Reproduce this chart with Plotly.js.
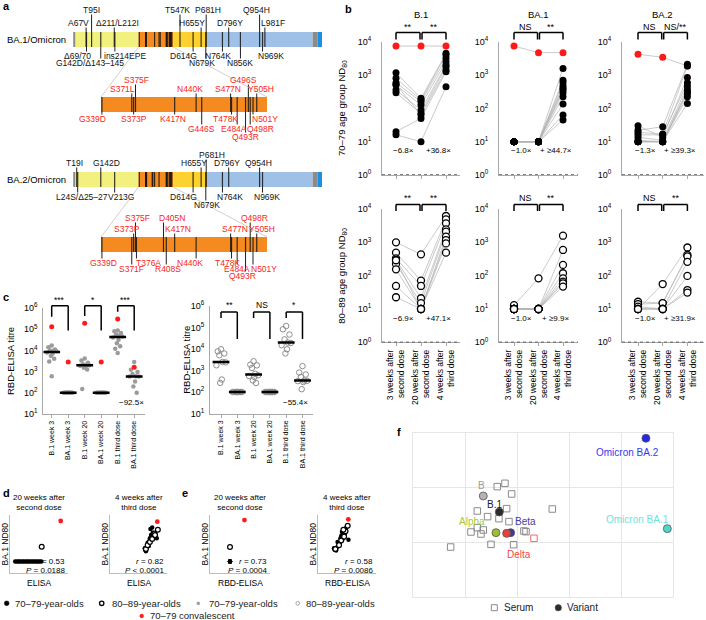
<!DOCTYPE html>
<html><head><meta charset="utf-8">
<script src="https://cdn.plot.ly/plotly-3.0.1.min.js"></script>
<style>html,body{margin:0;padding:0;background:#fff}#chart{width:706px;height:620px}</style>
</head><body><div id="chart"></div>
<script>
// ======================= DATA =======================
// ---- panel a: spike protein (residue numbers) ----
const DOMAIN_START = [1, 13, 335, 512, 685, 1225, 1250];
const DOMAIN_END   = [13, 335, 512, 685, 1225, 1250, 1273];
const BA1_MUT_POS = [67, 69, 95, 142, 211, 214, 339, 371, 373, 375, 417, 440, 446, 477, 478, 484, 493, 496, 498, 501, 505, 547, 614, 655, 679, 681, 764, 796, 856, 954, 969, 981];
const BA2_MUT_POS = [19, 24, 142, 213, 339, 371, 373, 375, 376, 405, 408, 417, 440, 477, 478, 484, 493, 498, 501, 505, 614, 655, 679, 681, 764, 796, 954, 969];
const BA1_LABELS = ['A67V','T95I','Δ211/L212I','T547K','H655Y','P681H','D796Y','Q954H','L981F','Δ69/70','G142D/Δ143–145','ins214EPE','D614G','N679K','N764K','N856K','N969K'];
const BA1_LABEL_POS = [67,95,211,547,655,681,796,954,981,69,142,214,614,679,764,856,969];
const BA1_RBD_LABELS = ['S375F','S371L','N440K','S477N','G496S','Y505H','G339D','S373P','K417N','G446S','T478K','E484A','Q493R','Q498R','N501Y'];
const BA1_RBD_POS = [375,371,440,477,496,505,339,373,417,446,478,484,493,498,501];
const BA2_LABELS = ['T19I','G142D','H655Y','P681H','D796Y','Q954H','L24S/Δ25–27','V213G','D614G','N679K','N764K','N969K'];
const BA2_LABEL_POS = [19,142,655,681,796,954,24,213,614,679,764,969];
const BA2_RBD_LABELS = ['S375F','S373P','D405N','K417N','S477N','Q498R','Y505H','G339D','S371F','T376A','R408S','N440K','T478K','E484A','Q493R','N501Y'];
const BA2_RBD_POS = [375,373,405,417,477,498,505,339,371,376,408,440,478,484,493,501];
const RBD_VIEW = [338, 516];

// ---- panel b: ND80 per individual (3 wk after 2nd, 20 wk after 2nd, 4 wk after 3rd) ----
const B1_70_W3   = [1170, 800, 590, 500, 355, 295, 520, 20, 16];
const B1_70_W20  = [200, 178, 158, 126, 89, 71, 63, 50, 10];
const B1_70_D3   = [4470, 4000, 3160, 2500, 2000, 1780, 1410, 1260, 447];
const B1_70_CONV = [7400, 7400, 7400];
const BA1_70_W3  = [10,10,10,10,10,10,10,10,10,10,10];
const BA1_70_W20 = [10,10,10,10,10,10,10,10,10,10,10];
const BA1_70_D3  = [1580, 700, 590, 470, 400, 355, 295, 222, 135, 63, 45];
const BA1_70_CONV = [7400, 4700, 4700];
const BA2_70_W3  = [30, 22, 19, 16, 13.5, 11, 10, 10, 10, 10];
const BA2_70_W20 = [13.5, 28, 17, 16, 11, 10, 10, 10, 10, 10];
const BA2_70_D3  = [850, 2090, 1870, 590, 470, 370, 316, 280, 222, 140];
const BA2_70_CONV = [4200, 3400, 1870];
const B1_80_W3   = [1000, 490, 330, 295, 222, 155, 49, 22.5, 290];
const B1_80_W20  = [435, 71, 49, 21, 15, 10, 10, 10, 10];
const B1_80_D3   = [6170, 4900, 3720, 2450, 2090, 1480, 1170, 930, 490];
const BA1_80_W3  = [13, 10, 10, 10, 10, 10, 10, 10];
const BA1_80_W20 = [83, 10, 10, 10, 10, 10, 10, 10];
const BA1_80_D3  = [1580, 590, 210, 118, 83, 66, 59, 47];
const BA2_80_W3  = [10, 16.5, 14, 11.7, 10, 10, 10];
const BA2_80_W20 = [56, 15, 15, 10, 10, 10, 10];
const BA2_80_D3  = [700, 420, 380, 260, 98, 37, 31];
const B_TITLES = ['B.1', 'BA.1', 'BA.2'];
const B_XTICKS = ['3 weeks after<br>second dose', '20 weeks after<br>second dose', '4 weeks after<br>third dose'];
const B_SIG_70 = [['**','**'], ['NS','**'], ['NS','NS/**']];
const B_SIG_80 = [['**','**'], ['NS','**'], ['NS','**']];
const B_FOLD_70 = [['−6.8×','+36.8×'], ['−1.0×','+ ≥44.7×'], ['−1.3×','+ ≥39.3×']];
const B_FOLD_80 = [['−6.9×','+47.1×'], ['−1.0×','+ ≥9.9×'], ['−1.0×','+ ≥31.9×']];

// ---- panel c: RBD-ELISA titres ----
const C_CATS = ['B.1 week 3','BA.1 week 3','B.1 week 20','BA.1 week 20','B.1 third dose','BA.1 third dose'];
const C70_B1_W3   = [17000, 14000, 11000, 10000, 9500, 9000, 8000, 7000, 5500, 4000, 3000, 600];
const C70_BA1_W3  = [100,100,100,100,100,100,100,100,100,100,100,100];
const C70_B1_W20  = [4100, 3300, 2600, 2200, 2100, 2000, 1900, 1800, 1500, 1250, 150];
const C70_BA1_W20 = [100,100,100,100,100,100,100,100,100,100,100];
const C70_B1_D3   = [87000, 79000, 67000, 55000, 50000, 45000, 41000, 31600, 22000, 15500, 12000, 7600];
const C70_BA1_D3  = [2800, 1230, 960, 775, 600, 590, 580, 345, 200, 100];
const C70_CONV    = [130000, 2800, 190000, 2800, 300000, 1600];
const C80_B1_W3   = [9700, 7800, 6200, 5100, 2500, 2400, 1750, 380, 265];
const C80_BA1_W3  = [100,100,100,100,100,100,100,100,100];
const C80_B1_W20  = [2700, 1870, 1740, 1310, 700, 600, 555, 500, 345, 262];
const C80_BA1_W20 = [100,100,100,100,100,100,100,100,100,100];
const C80_B1_D3   = [117000, 83000, 47000, 28000, 20000, 19000, 15000, 9700, 6200];
const C80_BA1_D3  = [1600, 800, 650, 500, 340, 330, 320, 290, 135];
const C70_SIG = ['***', '*', '***'];
const C80_SIG = ['**', 'NS', '*'];
const C70_FOLD = '−92.5×';
const C80_FOLD = '−55.4×';

// ---- panels d, e: BA.1 ND80 vs ELISA ----
const D1_B70_X = [28, 40, 55, 75, 110, 150, 220, 300, 420, 600, 850, 1200, 1700, 2400, 3500, 5000];
const D1_B70_Y = [10, 10, 10, 10, 10, 10, 10, 10, 10, 10, 10, 10, 10, 10, 10, 10];
const D1_O80_X = [5400];
const D1_O80_Y = [89];
const D1_CONV_X = [235000];
const D1_CONV_Y = [4100];
const D2_B70_X = [12600, 14100, 11200, 17800, 22400, 28200, 31600, 39800, 56200, 70800, 100000, 126000, 35500, 25100, 20000, 50100];
const D2_B70_Y = [56, 45, 71, 79, 126, 200, 316, 500, 708, 562, 447, 316, 1260, 100, 158, 1580];
const D2_O80_X = [14100, 20000, 31600, 50100, 79400, 158000, 89100];
const D2_O80_Y = [63, 112, 178, 282, 631, 1120, 501];
const D2_CONV_X = [141000];
const D2_CONV_Y = [3720];
const E1_B70_X = [100, 100, 100, 100, 100];
const E1_B70_Y = [10, 10, 10, 10, 10];
const E1_O80_X = [100];
const E1_O80_Y = [85];
const E1_CONV_X = [2800];
const E1_CONV_Y = [4700];
const E2_B70_X = [141, 126, 178, 200, 251, 224, 316, 355, 398, 562, 708, 447, 891, 1260, 501];
const E2_B70_Y = [56, 71, 50, 79, 100, 178, 141, 316, 447, 631, 501, 794, 1580, 251, 282];
const E2_O80_X = [158, 282, 398, 631, 794, 1120, 562];
const E2_O80_Y = [63, 112, 224, 398, 891, 2000, 1120];
const E2_CONV_X = [1230];
const E2_CONV_Y = [5250];
const DE_TITLES = ['20 weeks after<br>second dose', '4 weeks after<br>third dose', '20 weeks after<br>second dose', '4 weeks after<br>third dose'];
const DE_XLABELS = ['ELISA', 'ELISA', 'RBD-ELISA', 'RBD-ELISA'];
const DE_R = ['0.53', '0.82', '0.73', '0.58'];
const DE_P = ['= 0.0188', '< 0.0001', '= 0.0004', '= 0.0086'];

// ---- panel f: antigenic map ----
const SERUM_X = [1.763, 1.615, 1.891, 1.231, 1.795, 1.429, 1.647, 1.840, 2.673, 1.231, 1.346, 1.109, 1.301, 2.128, 2.167, 1.494, 1.929, 0.718];
const SERUM_Y = [2.082, 2.021, 1.886, 1.574, 1.617, 1.470, 1.433, 1.378, 1.610, 1.268, 1.225, 1.188, 1.151, 1.206, 1.194, 0.961, 0.955, 0.912];
const SERUM_DELTA_X = [2.321];
const SERUM_DELTA_Y = [1.072];
const VARIANT_NAMES = ['B', 'B.1', 'Alpha', 'Beta', 'Delta', 'Omicron BA.1', 'Omicron BA.2'];
const VARIANT_X = [1.346, 1.654, 1.590, 1.872, 1.795, 4.885, 4.474];
const VARIANT_Y = [1.849, 1.555, 1.176, 1.176, 1.163, 1.249, 2.909];

// ======================= STYLE / LAYOUT =======================
const W = 706, H = 620;
const PX = v => v / W;
const PY = v => 1 - v / H;
const FONT = 'Liberation Sans, Arial, Helvetica, sans-serif';
const DOMAIN_COLORS = ['#8c8c8c', '#f2f07e', '#f58b20', '#fdd230', '#9fc1e8', '#8c8c8c', '#1b8fe0'];
const VARIANT_COLORS = ['#b4b4b4', '#2b2b2b', '#9cc032', '#3c3c98', '#e8413c', '#4fd6cc', '#2626e8'];
const VARIANT_LABEL_COLORS = ['#9a9a9a', '#222222', '#a8c83a', '#40409e', '#f04848', '#6fe2d8', '#3838f0'];
const VARIANT_LABEL_DX = [-2, -5, -24, 15, 12, -30, -18];
const VARIANT_LABEL_DY = [10, 8, 11, 11, -21, 9, -14];

const layout = {
  width: W, height: H, margin: {l: 0, r: 0, t: 0, b: 0},
  paper_bgcolor: '#ffffff', plot_bgcolor: 'rgba(0,0,0,0)', showlegend: false,
  font: {family: FONT, size: 9, color: '#000'},
  shapes: [], annotations: []
};
const traces = [];
function ann(o) { layout.annotations.push(Object.assign({showarrow: false, xref: 'paper', yref: 'paper', xanchor: 'center', yanchor: 'middle'}, o)); }
function ptext(x, y, text, size, extra) {
  ann(Object.assign({x: PX(x), y: PY(y), text: text, font: {size: size || 9, color: '#000', family: FONT}}, extra || {}));
}
function pline(x0, y0, x1, y1, color, width, dash) {
  layout.shapes.push({type: 'line', xref: 'paper', yref: 'paper', x0: PX(x0), y0: PY(y0), x1: PX(x1), y1: PY(y1),
    line: {color: color, width: width, dash: dash || 'solid'}});
}
const LOGTXT = e => '10<sup>' + e + '</sup>';

// ======================= PANEL a =======================
layout.xaxis  = {domain: [PX(73), PX(322)], range: [0, 1273], visible: false, anchor: 'y'};
layout.yaxis  = {domain: [PY(280), 1], range: [280, 0], visible: false, anchor: 'x'};
layout.xaxis2 = {domain: [PX(101), PX(267)], range: RBD_VIEW, visible: false, anchor: 'y2'};
layout.yaxis2 = {domain: [PY(280), 1], range: [280, 0], visible: false, anchor: 'x2'};
const mainPx = r => 73 + r / 1273 * 249;

const A_TRACKS = [
  {name: 'BA.1/Omicron', y0: 32, y1: 47, tiers: {u2: 10, u1: 23, d1: 56, d2: 63},
   pos: BA1_MUT_POS, labels: BA1_LABELS, lpos: BA1_LABEL_POS,
   ltier: ['u1','u2','u1','u2','u1','u2','u1','u2','u1','d1','d2','d1','d1','d2','d1','d2','d1'],
   ldx: [-8,0,3,-2,-9,2,1,-3,8,-9,-11,10,-10,-4,-4,0,8],
   rbd: {y0: 97, y1: 112, tiers: {u2: 80, u1: 89, d1: 119, d2: 129, d3: 137},
     labels: BA1_RBD_LABELS, lpos: BA1_RBD_POS,
     ltier: ['u2','u1','u1','u1','u2','u1','d1','d1','d1','d2','d1','d2','d3','d2','d1'],
     ldx: [1,-9,-6,-3,-5,4,-9,0,-2,0,-6,-3,0,10,12]}},
  {name: 'BA.2/Omicron', y0: 172, y1: 187, tiers: {u2: 155, u1: 163, d1: 197, d2: 205},
   pos: BA2_MUT_POS, labels: BA2_LABELS, lpos: BA2_LABEL_POS,
   ltier: ['u1','u1','u1','u2','u1','u1','d1','d1','d1','d2','d1','d1'],
   ldx: [-2,6,-7,6,-2,-1,4,6,-10,1,8,4],
   rbd: {y0: 237, y1: 252, tiers: {u2: 218, u1: 229, d1: 263, d2: 269, d3: 276},
     labels: BA2_RBD_LABELS, lpos: BA2_RBD_POS,
     ltier: ['u2','u1','u2','u1','u1','u2','u1','d1','d2','d1','d2','d1','d1','d2','d3','d2'],
     ldx: [2,-7,9,3,4,4,5,2,0,12,2,-6,-4,0,-3,11]}}
];

function labelSet(set, y0, y1, xa, ya, color) {
  const lx = [], ly = [];
  set.labels.forEach((t, i) => {
    const p = set.lpos[i], tier = set.ltier[i], y = set.tiers[tier];
    if (tier[0] === 'u') { lx.push(p, p, null); ly.push(y0, y + 4.5, null); }
    else { lx.push(p, p, null); ly.push(y1, y - 4.5, null); }
    layout.annotations.push({xref: xa, yref: ya, x: p, y: y, xshift: set.ldx[i], text: t, showarrow: false,
      font: {size: 8.5, color: color, family: FONT}, xanchor: 'center', yanchor: 'middle'});
  });
  traces.push({type: 'scatter', mode: 'lines', x: lx, y: ly, xaxis: xa, yaxis: ya,
    line: {color: '#1e1e1e', width: 1}, hoverinfo: 'skip'});
}

A_TRACKS.forEach(tr => {
  DOMAIN_START.forEach((s, i) => layout.shapes.push({type: 'rect', xref: 'x', yref: 'y', x0: s, x1: DOMAIN_END[i],
    y0: tr.y0, y1: tr.y1, fillcolor: DOMAIN_COLORS[i], line: {width: 0}, layer: 'below'}));
  layout.shapes.push({type: 'rect', xref: 'x2', yref: 'y2', x0: RBD_VIEW[0], x1: RBD_VIEW[1],
    y0: tr.rbd.y0, y1: tr.rbd.y1, fillcolor: DOMAIN_COLORS[2], line: {width: 0}, layer: 'below'});
  pline(mainPx(DOMAIN_START[2]), tr.y1, 101, tr.rbd.y0, '#c4c4c4', 0.8);
  pline(mainPx(DOMAIN_END[2]), tr.y1, 267, tr.rbd.y0, '#c4c4c4', 0.8);
  const mx = [], my = [];
  tr.pos.forEach(p => { mx.push(p, p, null); my.push(tr.y0, tr.y1, null); });
  traces.push({type: 'scatter', mode: 'lines', x: mx, y: my, xaxis: 'x', yaxis: 'y',
    line: {color: 'rgba(20,20,20,0.85)', width: 1.2}, hoverinfo: 'skip'});
  const rx = [], ry = [];
  tr.pos.filter(p => p >= RBD_VIEW[0] && p <= RBD_VIEW[1]).forEach(p => { rx.push(p, p, null); ry.push(tr.rbd.y0, tr.rbd.y1, null); });
  traces.push({type: 'scatter', mode: 'lines', x: rx, y: ry, xaxis: 'x2', yaxis: 'y2',
    line: {color: 'rgba(20,20,20,0.85)', width: 1.2}, hoverinfo: 'skip'});
  labelSet(tr, tr.y0, tr.y1, 'x', 'y', '#111');
  labelSet(tr.rbd, tr.rbd.y0, tr.rbd.y1, 'x2', 'y2', '#f5271c');
  ptext(68, (tr.y0 + tr.y1) / 2, tr.name, 9.5, {xanchor: 'right'});
});

// ======================= PANEL b =======================
const B_COLS = [{ax: 382, c0: 396, st: 25, r: 460}, {ax: 499, c0: 514, st: 24.5, r: 578}, {ax: 622, c0: 638, st: 24.7, r: 704}];
const B_ROWS = [{top: 41.7, bot: 175, sig: 27, brTop: 32.5, brLeg: 39.5, fold: 150, open: false, sigs: B_SIG_70, folds: B_FOLD_70},
                {top: 209, bot: 342.3, sig: 197.5, brTop: 204.5, brLeg: 211, fold: 318, open: true, sigs: B_SIG_80, folds: B_FOLD_80}];
const B_DATA = [
  [[B1_70_W3, B1_70_W20, B1_70_D3, B1_70_CONV], [BA1_70_W3, BA1_70_W20, BA1_70_D3, BA1_70_CONV], [BA2_70_W3, BA2_70_W20, BA2_70_D3, BA2_70_CONV]],
  [[B1_80_W3, B1_80_W20, B1_80_D3, null], [BA1_80_W3, BA1_80_W20, BA1_80_D3, null], [BA2_80_W3, BA2_80_W20, BA2_80_D3, null]]
];

function dataLine(xref, x0, y0, x1, y1, w) {
  layout.shapes.push({type: 'line', xref: xref, yref: 'paper', x0: x0, x1: x1, y0: PY(y0), y1: PY(y1), line: {color: '#000', width: w || 1.5}});
}

B_ROWS.forEach((row, r) => {
  B_COLS.forEach((col, c) => {
    const k = 3 + r * 3 + c, xa = 'x' + k, ya = 'y' + k;
    layout['xaxis' + k] = {domain: [PX(col.ax), PX(col.r)], range: [-(col.c0 - col.ax) / col.st, (col.r - col.c0) / col.st],
      anchor: ya, showline: true, linecolor: '#a8a8a8', linewidth: 1, zeroline: false, showgrid: false,
      tickvals: [0, 1, 2], ticktext: B_XTICKS, showticklabels: r === 1, tickangle: -90,
      ticks: 'outside', ticklen: 3, tickcolor: '#a8a8a8', tickfont: {size: 8.5, family: FONT, color: '#000'}};
    layout['yaxis' + k] = {domain: [PY(row.bot), PY(row.top)], type: 'log', range: [0, 4], anchor: xa,
      showline: true, linecolor: '#a8a8a8', linewidth: 1, zeroline: false, showgrid: false,
      tickvals: [1, 10, 100, 1000, 10000], ticktext: [0, 1, 2, 3, 4].map(LOGTXT),
      ticks: 'outside', ticklen: 8, tickcolor: 'rgba(0,0,0,0)', tickfont: {size: 9, family: FONT, color: '#000'}};
    const [w3, w20, d3, conv] = B_DATA[r][c];
    const lx = [], ly = [], mx = [], my = [];
    w3.forEach((v, i) => { lx.push(0, 1, 2, null); ly.push(w3[i], w20[i], d3[i], null); });
    [w3, w20, d3].forEach((arr, j) => arr.forEach(v => { mx.push(j); my.push(v); }));
    layout.shapes.push({type: 'line', xref: xa + ' domain', yref: ya, x0: 0, x1: 1, y0: 1, y1: 1,
      line: {color: '#000', width: 1.2, dash: 'dot'}});
    traces.push({type: 'scatter', mode: 'lines', x: lx, y: ly, xaxis: xa, yaxis: ya, line: {color: '#b3b3b3', width: 0.7}, hoverinfo: 'skip'});
    if (conv) traces.push({type: 'scatter', mode: 'lines+markers', x: [0, 1, 2], y: conv, xaxis: xa, yaxis: ya,
      line: {color: '#b3b3b3', width: 0.7}, marker: {color: '#ff1a1a', size: 7}, hoverinfo: 'skip'});
    traces.push({type: 'scatter', mode: 'markers', x: mx, y: my, xaxis: xa, yaxis: ya, hoverinfo: 'skip',
      marker: row.open ? {symbol: 'circle', size: 7, color: '#ffffff', line: {color: '#000', width: 1.3}}
                       : {symbol: 'circle', size: 7, color: '#000', line: {width: 0}}});
    [[0, 0.96], [1.04, 2]].forEach((b, j) => {
      dataLine(xa, b[0], row.brLeg, b[0], row.brTop);
      dataLine(xa, b[0], row.brTop, b[1], row.brTop);
      dataLine(xa, b[1], row.brTop, b[1], row.brLeg);
      ann({xref: xa, x: (b[0] + b[1]) / 2, y: PY(row.sig), text: row.sigs[c][j], font: {size: 9, family: FONT, color: '#000'}});
    });
    ann({xref: xa, x: 0.3, y: PY(row.fold), text: row.folds[c][0], font: {size: 8, family: FONT, color: '#000'}});
    ann({xref: xa, x: 1.7, y: PY(row.fold), text: row.folds[c][1], font: {size: 8, family: FONT, color: '#000'}});
    if (r === 0) ann({xref: xa, x: 1, y: PY(15), text: B_TITLES[c], font: {size: 9.5, family: FONT, color: '#000'}});
  });
});
ptext(342, 108, '70–79 age group ND<sub>80</sub>', 9.5, {textangle: -90});
ptext(342, 275.7, '80–89 age group ND<sub>80</sub>', 9.5, {textangle: -90});

// ======================= PANEL c =======================
const C_PANELS = [
  {k: 9, ax: 43.3, c0: 51.7, st: 16.5, r: 145, top: 308, bot: 414, cols: [C70_B1_W3, C70_BA1_W3, C70_B1_W20, C70_BA1_W20, C70_B1_D3, C70_BA1_D3],
   conv: C70_CONV, open: false, sig: C70_SIG, fold: C70_FOLD, foldX: 4.85, brTop: 305.7, legL: [316.7, 316, 311.7], legR: 330.5, sigY: 300, ytitle: 10},
  {k: 10, ax: 210, c0: 221, st: 16.3, r: 313, top: 306, bot: 413.5, cols: [C80_B1_W3, C80_BA1_W3, C80_B1_W20, C80_BA1_W20, C80_B1_D3, C80_BA1_D3],
   conv: null, open: true, sig: C80_SIG, fold: C80_FOLD, foldX: 4.55, brTop: 312, legL: [318, 318, 318], legR: 339, sigY: 305, ytitle: 187}
];
const JIT = [0, -0.2, 0.2, -0.1, 0.1, 0.28, -0.28, 0.05, -0.05, 0.15, -0.15, 0];
const median = a => { const s = a.slice().sort((p, q) => p - q), n = s.length; return n % 2 ? s[(n - 1) / 2] : (s[n / 2 - 1] + s[n / 2]) / 2; };
C_PANELS.forEach(P => {
  const xa = 'x' + P.k, ya = 'y' + P.k;
  layout['xaxis' + P.k] = {domain: [PX(P.ax), PX(P.r)], range: [-(P.c0 - P.ax) / P.st, (P.r - P.c0) / P.st], anchor: ya,
    showline: true, linecolor: '#a8a8a8', zeroline: false, showgrid: false, tickvals: [0, 1, 2, 3, 4, 5], ticktext: C_CATS,
    tickangle: -90, ticks: 'outside', ticklen: 3, tickcolor: '#a8a8a8', tickfont: {size: 7, family: FONT, color: '#000'}};
  layout['yaxis' + P.k] = {domain: [PY(P.bot), PY(P.top)], type: 'log', range: [1, 6], anchor: xa,
    showline: true, linecolor: '#a8a8a8', zeroline: false, showgrid: false,
    tickvals: [10, 100, 1000, 10000, 100000, 1000000], ticktext: [1, 2, 3, 4, 5, 6].map(LOGTXT),
    ticks: 'outside', ticklen: 3, tickcolor: 'rgba(0,0,0,0)', tickfont: {size: 9, family: FONT, color: '#000'}};
  layout.shapes.push({type: 'line', xref: xa + ' domain', yref: ya, x0: 0, x1: 1, y0: 2, y1: 2, line: {color: '#000', width: 1.2, dash: 'dot'}});
  const mx = [], my = [], medx = [], medy = [];
  P.cols.forEach((arr, j) => {
    arr.forEach((v, i) => { mx.push(j + JIT[i % JIT.length]); my.push(v); });
    medx.push(j); medy.push(median(arr));
  });
  traces.push({type: 'scatter', mode: 'markers', x: mx, y: my, xaxis: xa, yaxis: ya, hoverinfo: 'skip',
    marker: P.open ? {symbol: 'circle-open', size: 5.5, color: '#8e8e8e', line: {width: 1}} : {size: 4.5, color: '#9b9b9b'}});
  if (P.conv) traces.push({type: 'scatter', mode: 'markers', x: [0, 1, 2, 3, 4, 5], y: P.conv, xaxis: xa, yaxis: ya,
    marker: {size: 5, color: '#ff1a1a'}, hoverinfo: 'skip'});
  traces.push({type: 'scatter', mode: 'markers', x: medx, y: medy, xaxis: xa, yaxis: ya, hoverinfo: 'skip',
    marker: {symbol: 'line-ew', size: 12, color: '#000', line: {color: '#000', width: 2.5}}});
  P.sig.forEach((s, g) => {
    const a = 2 * g, b = 2 * g + 1;
    dataLine(xa, a, P.legL[g], a, P.brTop);
    dataLine(xa, a, P.brTop, b, P.brTop);
    dataLine(xa, b, P.brTop, b, P.legR);
    ann({xref: xa, x: a + 0.5, y: PY(P.sigY), text: s, font: {size: 8.5, family: FONT, color: '#000'}});
  });
  ann({xref: xa, x: P.foldX, y: PY(402), text: P.fold, font: {size: 8, family: FONT, color: '#000'}});
  ptext(P.ytitle, (P.top + P.bot) / 2, 'RBD-ELISA titre', 9.5, {textangle: -90});
});

// ======================= PANELS d, e =======================
const DE_AX = [
  {k: 11, l: 10, r: 68, xr: [1, 6], b: [D1_B70_X, D1_B70_Y], o: [D1_O80_X, D1_O80_Y], c: [D1_CONV_X, D1_CONV_Y]},
  {k: 12, l: 110, r: 167, xr: [1, 6], b: [D2_B70_X, D2_B70_Y], o: [D2_O80_X, D2_O80_Y], c: [D2_CONV_X, D2_CONV_Y]},
  {k: 13, l: 210, r: 270, xr: [0, 6], b: [E1_B70_X, E1_B70_Y], o: [E1_O80_X, E1_O80_Y], c: [E1_CONV_X, E1_CONV_Y]},
  {k: 14, l: 318, r: 376, xr: [1, 5], b: [E2_B70_X, E2_B70_Y], o: [E2_O80_X, E2_O80_Y], c: [E2_CONV_X, E2_CONV_Y]}
];
DE_AX.forEach((A, i) => {
  const xa = 'x' + A.k, ya = 'y' + A.k;
  layout['xaxis' + A.k] = {domain: [PX(A.l), PX(A.r)], type: 'log', range: A.xr, anchor: ya, showline: true, linecolor: '#bdbdbd',
    showticklabels: false, ticks: '', showgrid: false, zeroline: false};
  layout['yaxis' + A.k] = {domain: [PY(573), PY(515)], type: 'log', range: [0.25, 4], anchor: xa, showline: true, linecolor: '#bdbdbd',
    showticklabels: false, ticks: '', showgrid: false, zeroline: false};
  traces.push({type: 'scatter', mode: 'markers', x: A.b[0], y: A.b[1], xaxis: xa, yaxis: ya, marker: {size: 4.5, color: '#000'}, hoverinfo: 'skip'});
  traces.push({type: 'scatter', mode: 'markers', x: A.o[0], y: A.o[1], xaxis: xa, yaxis: ya,
    marker: {size: 4.8, color: '#fff', line: {color: '#000', width: 1.2}}, hoverinfo: 'skip'});
  traces.push({type: 'scatter', mode: 'markers', x: A.c[0], y: A.c[1], xaxis: xa, yaxis: ya, marker: {size: 4.8, color: '#ff1a1a'}, hoverinfo: 'skip'});
  const cx = (A.l + A.r) / 2;
  ptext(cx, 502.5, DE_TITLES[i], 8);
  ptext(cx, 582.7, DE_XLABELS[i], 8.5);
  ptext(A.l - 5.5, 544, 'BA.1 ND80', 8.5, {textangle: -90});
  ptext(A.r - 1, 561.7, '<i>r</i> = ' + DE_R[i], 8, {xanchor: 'right'});
  ptext(A.r - 1, 570, '<i>P</i> ' + DE_P[i], 8, {xanchor: 'right'});
});

// legend for c/d/e
function circ(cx, cy, rad, fill, lineColor, lw) {
  layout.shapes.push({type: 'circle', xref: 'paper', yref: 'paper', x0: PX(cx - rad), x1: PX(cx + rad), y0: PY(cy + rad), y1: PY(cy - rad),
    fillcolor: fill, line: {color: lineColor, width: lw}});
}
circ(6.7, 603.3, 2.4, '#000', '#000', 0.5);
circ(101.7, 603.3, 2.2, '#fff', '#000', 1.3);
circ(198.3, 603.3, 1.6, '#9b9b9b', '#9b9b9b', 0.3);
circ(297.7, 603.3, 1.8, '#fff', '#8e8e8e', 0.8);
circ(141.7, 616, 2, '#ff1a1a', '#ff1a1a', 0.3);
[[13.3, 603.3, '70–79-year-olds'], [110, 603.3, '80–89-year-olds'], [206.7, 603.3, '70–79-year-olds'],
 [304.3, 603.3, '80–89-year-olds'], [148.3, 615.5, '70–79 convalescent']].forEach(t =>
  ptext(t[0], t[1], t[2], 9.5, {xanchor: 'left', font: {size: 9.5, color: '#222', family: FONT}}));

// ======================= PANEL f =======================
layout.xaxis15 = {domain: [PX(413.3), PX(673.3)], range: [0, 5], tick0: 0, dtick: 1, anchor: 'y15', showgrid: true, gridcolor: '#e6e6e6',
  showline: true, mirror: true, linecolor: '#e6e6e6', zeroline: false, showticklabels: false, ticks: ''};
layout.yaxis15 = {domain: [PY(596.7), PY(433.3)], range: [0, 3], tick0: 0, dtick: 1, anchor: 'x15', showgrid: true, gridcolor: '#e6e6e6',
  showline: true, mirror: true, linecolor: '#e6e6e6', zeroline: false, showticklabels: false, ticks: ''};
traces.push({type: 'scatter', mode: 'markers', x: SERUM_X, y: SERUM_Y, xaxis: 'x15', yaxis: 'y15', hoverinfo: 'skip',
  marker: {symbol: 'square-open', size: 6.5, color: '#8a8a8a', line: {width: 1}}});
traces.push({type: 'scatter', mode: 'markers', x: SERUM_DELTA_X, y: SERUM_DELTA_Y, xaxis: 'x15', yaxis: 'y15', hoverinfo: 'skip',
  marker: {symbol: 'square-open', size: 6.5, color: '#f06a6a', line: {width: 1}}});
VARIANT_NAMES.forEach((nm, i) => {
  traces.push({type: 'scatter', mode: 'markers', x: [VARIANT_X[i]], y: [VARIANT_Y[i]], xaxis: 'x15', yaxis: 'y15', hoverinfo: 'skip',
    marker: {size: 8, color: VARIANT_COLORS[i], line: {color: '#555', width: 0.8}}});
  layout.annotations.push({xref: 'x15', yref: 'y15', x: VARIANT_X[i], y: VARIANT_Y[i], xshift: VARIANT_LABEL_DX[i], yshift: VARIANT_LABEL_DY[i],
    text: nm, showarrow: false, xanchor: 'center', yanchor: 'middle', font: {size: 10, color: VARIANT_LABEL_COLORS[i], family: FONT}});
});
layout.shapes.push({type: 'rect', xref: 'paper', yref: 'paper', x0: PX(491.3), x1: PX(497.3), y0: PY(610.7), y1: PY(604.7),
  fillcolor: '#fff', line: {color: '#8a8a8a', width: 1}});
circ(558.3, 607.7, 3.2, '#2b2b2b', '#555', 0.6);
ptext(501.7, 607.7, 'Serum', 10, {xanchor: 'left', font: {size: 10, color: '#222', family: FONT}});
ptext(565, 607.7, 'Variant', 10, {xanchor: 'left', font: {size: 10, color: '#222', family: FONT}});

// ======================= panel letters =======================
[['a', 1, 6], ['b', 343, 9], ['c', 1, 297], ['d', 1, 493], ['e', 180, 493], ['f', 395, 432]].forEach(l =>
  ptext(l[1], l[2], '<b>' + l[0] + '</b>', 11, {xanchor: 'left'}));

Plotly.newPlot('chart', traces, layout, {displayModeBar: false, staticPlot: true});
</script>
</body></html>
